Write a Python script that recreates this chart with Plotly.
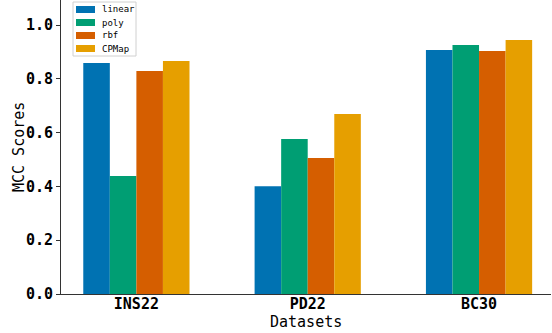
import plotly.graph_objects as go

datasets = ["INS22", "PD22", "BC30"]
series_names = ["linear", "poly", "rbf", "CPMap"]
linear = [0.859, 0.401, 0.907]
poly = [0.439, 0.576, 0.926]
rbf = [0.829, 0.506, 0.903]
cpmap = [0.866, 0.669, 0.944]
colors = ["#0072B2", "#009E73", "#D55E00", "#E69F00"]
y_ticks = [0.0, 0.2, 0.4, 0.6, 0.8, 1.0]

W, H = 552, 333
L, R, T, B = 61, 1, 0, 39
pw, ph = W - L - R, H - T - B

def px_x(x):
    return (x - L) / pw

def px_y(y):
    return 1 - (y - T) / ph

fig = go.Figure()
for name, vals, c in zip(series_names, [linear, poly, rbf, cpmap], colors):
    fig.add_trace(go.Bar(x=datasets, y=vals, name=name, marker=dict(color=c, line=dict(width=0))))

mono = "DejaVu Sans Mono"
shapes = []
annotations = []
# custom legend box
shapes.append(dict(type="rect", xref="paper", yref="paper",
                   x0=px_x(73), x1=px_x(136), y0=px_y(56), y1=px_y(2),
                   line=dict(color="#d0d0d0", width=1), fillcolor="rgba(255,255,255,0.8)", layer="above"))
centers = [9.5, 22.5, 35.5, 48.5]
for name, c, yc in zip(series_names, colors, centers):
    shapes.append(dict(type="rect", xref="paper", yref="paper",
                       x0=px_x(76), x1=px_x(95), y0=px_y(yc + 3.5), y1=px_y(yc - 3.5),
                       line=dict(width=0), fillcolor=c, layer="above"))
    annotations.append(dict(text=name, xref="paper", yref="paper", x=px_x(100), y=px_y(yc),
                            xanchor="left", yanchor="middle", showarrow=False,
                            font=dict(family=mono, size=9, color="black")))
annotations.append(dict(text="Datasets", xref="paper", yref="paper", x=0.5, y=px_y(322),
                        xanchor="center", yanchor="middle", showarrow=False,
                        font=dict(family=mono, size=15, color="black")))
annotations.append(dict(text="MCC Scores", xref="paper", yref="paper", x=px_x(19), y=0.5,
                        xanchor="center", yanchor="middle", showarrow=False, textangle=-90,
                        font=dict(family=mono, size=15, color="black")))

fig.update_layout(
    width=W, height=H,
    margin=dict(l=L, r=R, t=T, b=B),
    plot_bgcolor="white", paper_bgcolor="white",
    barmode="group", bargap=0.38, bargroupgap=0,
    showlegend=False, hovermode=False,
    shapes=shapes, annotations=annotations,
    xaxis=dict(range=[-0.44, 2.42], showline=True, linecolor="#333333", linewidth=1,
               ticks="", ticklen=0, ticklabelstandoff=-4,
               tickfont=dict(family=mono, size=15, color="black", weight="bold"),
               showgrid=False, automargin=False),
    yaxis=dict(range=[0, 1.093], showline=True, linecolor="#333333", linewidth=1,
               ticks="outside", ticklen=4, tickcolor="#333333",
               tickvals=y_ticks, tickformat=".1f",
               tickfont=dict(family=mono, size=15, color="black", weight="bold"),
               showgrid=False, zeroline=False, automargin=False),
)
fig.write_html("out.html", config={"displayModeBar": False, "staticPlot": True},
               post_script="document.body.style.margin='0px';document.body.style.overflow='hidden';")
